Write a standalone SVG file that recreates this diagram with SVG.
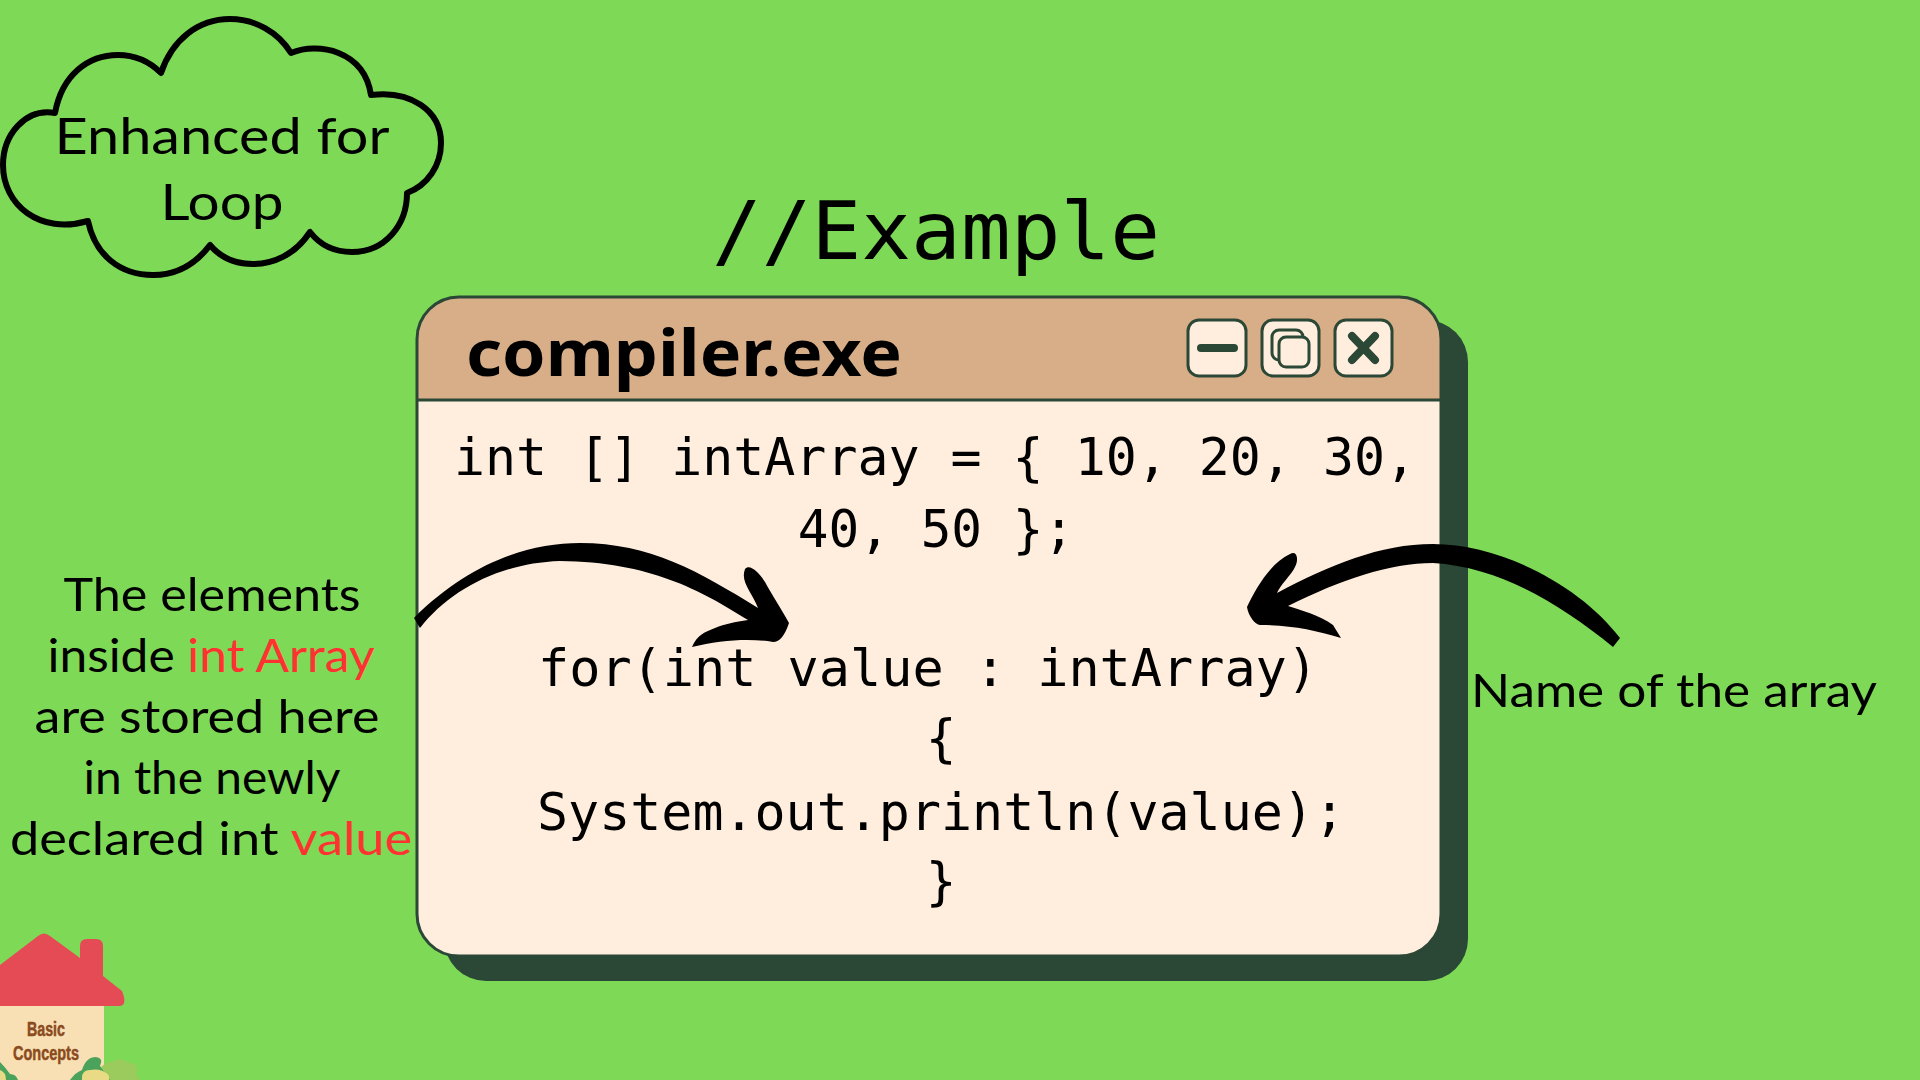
<svg xmlns="http://www.w3.org/2000/svg" width="1920" height="1080" viewBox="0 0 1920 1080">
<style>
.code{font-family:"DejaVu Sans Mono","Liberation Mono",monospace;font-size:51px;fill:#000;text-anchor:middle}
.sans{font-family:"Lato","Liberation Sans",sans-serif;font-size:46px;fill:#000;text-anchor:middle}
.red{fill:#ff3131}
.btn{fill:#ffeedd;stroke:#2b4736;stroke-width:3}
.ic{fill:none;stroke:#2b4736;stroke-linecap:round;stroke-width:8}
.house{font-family:"Liberation Sans",sans-serif;font-weight:700;font-size:20px;fill:#8a4b20;stroke:#8a4b20;stroke-width:.5;text-anchor:middle}
</style>
<rect width="1920" height="1080" fill="#7ed957"/>
<g id="cloud">
<path d="M55 113C62 75 88 55 118 55C135 55 150 62 161 73C172 40 198 19 230 19C255 19 278 32 291 53C318 42 364 50 371 95C410 90 441 110 441 143C441 165 428 185 407 193C407 225 385 252 352 252C335 252 320 245 310 232C295 255 273 264 253 264C235 264 220 257 210 245C195 265 175 275 153 275C120 275 95 255 88 221C40 235 3 205 3 165C3 135 25 108 55 113Z" fill="none" stroke="#000" stroke-width="6" stroke-linejoin="round"/>
<text class="sans" x="222" y="154" textLength="335" lengthAdjust="spacingAndGlyphs" style="font-size:51px">Enhanced for</text>
<text class="sans" x="222" y="220" textLength="123" lengthAdjust="spacingAndGlyphs" style="font-size:51px">Loop</text>
</g>
<text id="example" x="936" y="259" font-family="DejaVu Sans Mono, monospace" font-size="81" text-anchor="middle" textLength="448" lengthAdjust="spacingAndGlyphs">//Example</text>
<g id="window">
<rect x="444" y="320" width="1024" height="661" rx="42" fill="#2b4736"/>
<path d="M417 400V339a42 42 0 0 1 42-42H1399a42 42 0 0 1 42 42V400Z" fill="#d8ae88"/>
<path d="M417 400H1441V914a42 42 0 0 1 -42 42H459a42 42 0 0 1 -42-42Z" fill="#ffeedd"/>
<rect x="417" y="297" width="1024" height="659" rx="42" fill="none" stroke="#2b4736" stroke-width="3"/>
<path d="M417 400H1441" stroke="#2b4736" stroke-width="3"/>
<text x="466" y="376" font-family="Noto Sans, Open Sans, sans-serif" font-weight="700" font-size="64" textLength="436" lengthAdjust="spacingAndGlyphs">compiler.exe</text>
<rect class="btn" x="1188" y="320" width="58" height="56" rx="11"/>
<path class="ic" d="M1201 348H1234"/>
<rect class="btn" x="1262" y="320" width="57" height="56" rx="11"/>
<rect x="1272" y="330" width="31" height="30" rx="7" fill="none" stroke="#2b4736" stroke-width="3"/>
<rect x="1279" y="337" width="30" height="30" rx="7" fill="#ffeedd" stroke="#2b4736" stroke-width="3"/>
<rect class="btn" x="1335" y="320" width="57" height="56" rx="11"/>
<path class="ic" d="M1352 336L1375 360M1375 336L1352 360"/>
<text class="code" x="935" y="475" textLength="962" lengthAdjust="spacingAndGlyphs">int [] intArray = { 10, 20, 30,</text>
<text class="code" x="936" y="547">40, 50 };</text>
<text class="code" x="928" y="686" textLength="780" lengthAdjust="spacingAndGlyphs">for(int value : intArray)</text>
<text class="code" x="941" y="756">{</text>
<text class="code" x="941" y="830" textLength="808" lengthAdjust="spacingAndGlyphs">System.out.println(value);</text>
<text class="code" x="941" y="899">}</text>
</g>
<g id="connectors" fill="#000">
<path d="M414 618C470 562 530 543 580 543C650 543 700 572 758 608C752 592 740 582 745 569C750 563 760 574 765 582C772 595 782 610 789 623C785 635 780 642 773 642C750 638 720 640 692 647C697 635 705 632 715 628C725 624 735 622 748 620C700 590 650 562 560 561C500 563 450 590 420 628Z"/>
<path d="M1620 638C1580 585 1500 544 1433 544C1380 544 1330 565 1277 593C1283 580 1298 570 1297 558Q1296 551 1290 554C1270 563 1255 590 1247 607C1248 615 1255 625 1260 625C1290 625 1315 630 1341 638L1333 625C1320 615 1300 610 1288 606C1340 580 1390 563 1433 563C1500 567 1560 604 1613 647Z"/>
</g>
<g id="left-note">
<text class="sans" x="212" y="611" textLength="297" lengthAdjust="spacingAndGlyphs">The elements</text>
<text class="sans" x="211" y="672" textLength="327" lengthAdjust="spacingAndGlyphs">inside <tspan class="red">int Array</tspan></text>
<text class="sans" x="207" y="733" textLength="345" lengthAdjust="spacingAndGlyphs">are stored here</text>
<text class="sans" x="212" y="794" textLength="257" lengthAdjust="spacingAndGlyphs">in the newly</text>
<text class="sans" x="211" y="855" textLength="402" lengthAdjust="spacingAndGlyphs">declared int <tspan class="red">value</tspan></text>
</g>
<g id="right-note">
<text class="sans" x="1674" y="707" textLength="406" lengthAdjust="spacingAndGlyphs">Name of the array</text>
</g>
<g id="house">
<path d="M0 1006V965L38 936Q44 931 50 936L80 958V946Q80 939 87 939H96Q103 939 103 946V976L122 991Q128 1006 119 1006Z" fill="#e54b55"/>
<rect y="1006" width="104" height="74" fill="#f8e0b4"/>
<text class="house" x="46" y="1036" textLength="38" lengthAdjust="spacingAndGlyphs">Basic</text>
<text class="house" x="46" y="1060" textLength="66" lengthAdjust="spacingAndGlyphs">Concepts</text>
<path d="M95 1080Q100 1062 112 1062Q120 1056 128 1063Q140 1062 136 1074L140 1080Z" fill="#9ccb5d"/>
<path d="M70 1080Q76 1072 82 1070Q86 1057 96 1057Q104 1058 100 1066L110 1080Z" fill="#4aa25b"/>
<path d="M82 1078Q82 1070 90 1070Q100 1068 106 1073Q110 1075 109 1080H82Z" fill="#e9db85"/>
<path d="M0 1062Q6 1068 10 1074Q16 1074 18 1080H0Z" fill="#4aa25b"/>
<path d="M0 1070Q6 1072 6 1080H0Z" fill="#e9db85"/>
</g>
</svg>
